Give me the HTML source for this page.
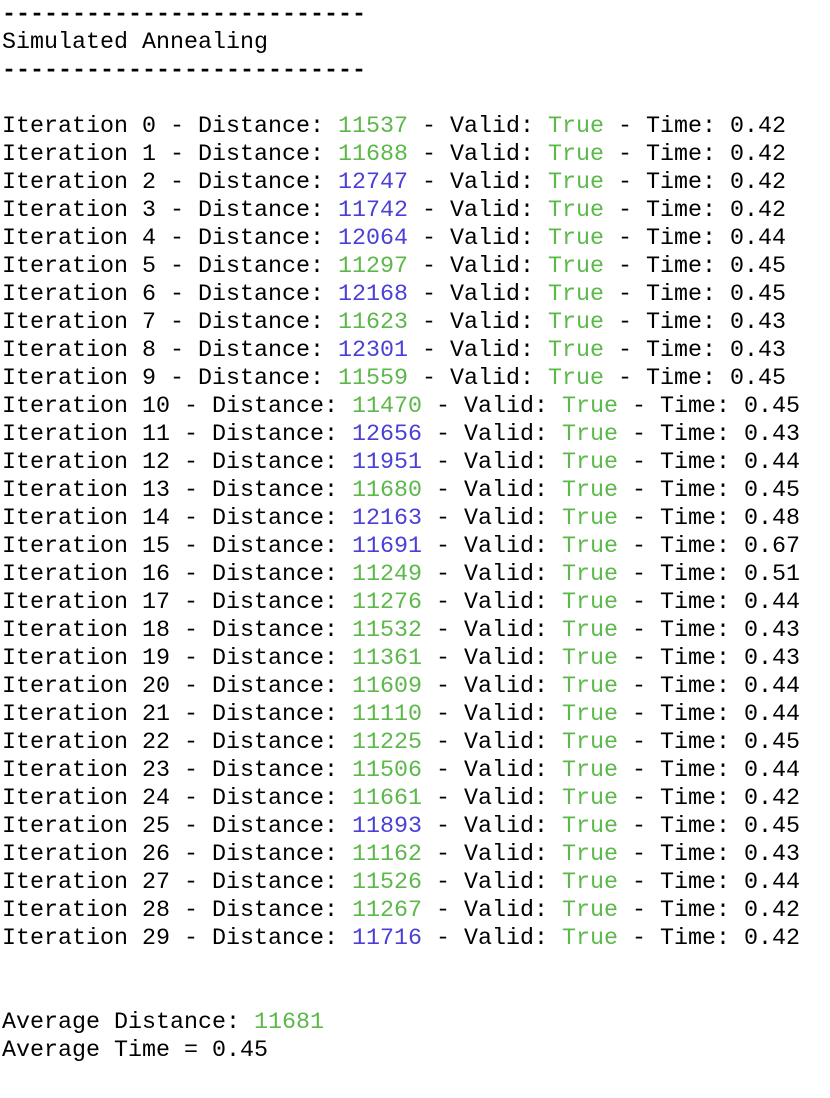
<!DOCTYPE html>
<html>
<head>
<meta charset="utf-8">
<style>
  html,body{margin:0;padding:0;background:#fff;width:830px;height:1098px;overflow:hidden;}
  #term{position:absolute;left:2px;top:1px;font-family:"Liberation Mono",monospace;font-size:23.33px;line-height:28px;color:#000;}
  .g{color:#5cb84a;}
  .b{color:#4a3fd6;}
  .line{height:28px;white-space:pre;}
  .sep{font-weight:bold;}
</style>
</head>
<body>
<div id="term">
<div class="line sep">--------------------------</div>
<div class="line">Simulated Annealing</div>
<div class="line sep">--------------------------</div>
<div class="line"> </div>
<div id="iters"></div>
<div class="line"> </div>
<div class="line"> </div>
<div class="line">Average Distance: <span class="g">11681</span></div>
<div class="line">Average Time = 0.45</div>
</div>
<script>
const distances=[11537,11688,12747,11742,12064,11297,12168,11623,12301,11559,11470,12656,11951,11680,12163,11691,11249,11276,11532,11361,11609,11110,11225,11506,11661,11893,11162,11526,11267,11716];
const improved=[1,1,0,0,0,1,0,1,0,1,1,0,0,1,0,0,1,1,1,1,1,1,1,1,1,0,1,1,1,0];
const times=["0.42","0.42","0.42","0.42","0.44","0.45","0.45","0.43","0.43","0.45","0.45","0.43","0.44","0.45","0.48","0.67","0.51","0.44","0.43","0.43","0.44","0.44","0.45","0.44","0.42","0.45","0.43","0.44","0.42","0.42"];
const box=document.getElementById('iters');
distances.forEach((d,i)=>{
  const el=document.createElement('div');
  el.className='line';
  
  
  el.innerHTML='Iteration '+i+' - Distance: <span class="'+(improved[i]?'g':'b')+'">'+d+'</span> - Valid: <span class="g">True</span> - Time: '+times[i];
  box.appendChild(el);
});
</script>
</body>
</html>
